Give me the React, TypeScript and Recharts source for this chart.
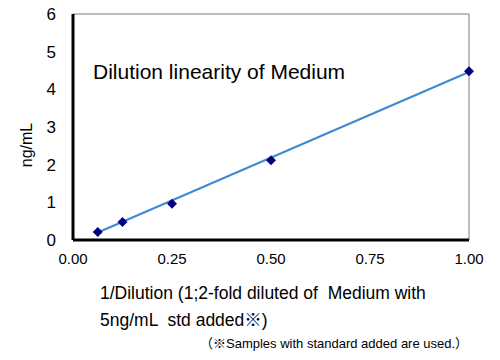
import { ReferenceLine, Scatter, ScatterChart, XAxis, YAxis } from "recharts"

const dilution = [0.0625, 0.125, 0.25, 0.5, 1]
const measured = [0.21, 0.48, 0.96, 2.12, 4.48]
const trendX = [0.0625, 1]
const trendY = [0.2, 4.46]
const xTicks = [0, 0.25, 0.5, 0.75, 1]
const yTicks = [0, 1, 2, 3, 4, 5, 6]

const points = dilution.map((x, i) => ({ x, y: measured[i] }))
const trend = trendX.map((x, i) => ({ x, y: trendY[i] }))

const font = '"Liberation Sans", Arial, "Noto Sans CJK JP", sans-serif'

const Diamond = (props: any) => {
  const { cx, cy } = props
  const r = 5
  return <polygon points={`${cx},${cy - r} ${cx + r},${cy} ${cx},${cy + r} ${cx - r},${cy}`} fill="#000080" />
}

export default function App() {
  return (
    <div style={{ position: "absolute", left: 0, top: 0, width: 500, height: 360, fontFamily: font, background: "#fff" }}>
      <ScatterChart width={500} height={360} margin={{ top: 14, right: 31, left: 0, bottom: 0 }}>
        <XAxis
          type="number"
          dataKey="x"
          domain={[0, 1]}
          ticks={xTicks}
          tickFormatter={(v: number) => v.toFixed(2)}
          height={120}
          tickSize={0}
          tickMargin={13}
          axisLine={{ stroke: "#000", strokeWidth: 3 }}
          tick={{ fill: "#000", fontSize: 15, fontFamily: font }}
        />
        <YAxis
          type="number"
          dataKey="y"
          domain={[0, 6]}
          ticks={yTicks}
          width={73}
          tickSize={0}
          tickMargin={17}
          axisLine={{ stroke: "#000", strokeWidth: 3 }}
          tick={{ fill: "#000", fontSize: 17, fontFamily: font }}
        />
        <ReferenceLine y={6} stroke="#7f7f7f" strokeWidth={1} />
        <ReferenceLine x={1} stroke="#7f7f7f" strokeWidth={1} />
        <Scatter
          data={trend}
          line={{ stroke: "#3b8ad6", strokeWidth: 2 }}
          shape={() => <g />}
          isAnimationActive={false}
        />
        <Scatter data={points} shape={Diamond} isAnimationActive={false} />
      </ScatterChart>
      <div style={{ position: "absolute", left: 93, top: 60, fontSize: 21, whiteSpace: "nowrap" }}>
        Dilution linearity of Medium
      </div>
      <div
        style={{
          position: "absolute",
          left: 27,
          top: 145,
          fontSize: 16,
          whiteSpace: "nowrap",
          transform: "translate(-50%, -50%) rotate(-90deg)",
        }}
      >
        ng/mL
      </div>
      <div style={{ position: "absolute", left: 100, top: 280, fontSize: 17.5, lineHeight: "27px", whiteSpace: "pre" }}>
        {"1/Dilution (1;2-fold diluted of  Medium with\n5ng/mL  std added※)"}
      </div>
      <div style={{ position: "absolute", left: 200, top: 333, fontSize: 13, whiteSpace: "nowrap" }}>
        （※Samples with standard added are used.）
      </div>
    </div>
  )
}
